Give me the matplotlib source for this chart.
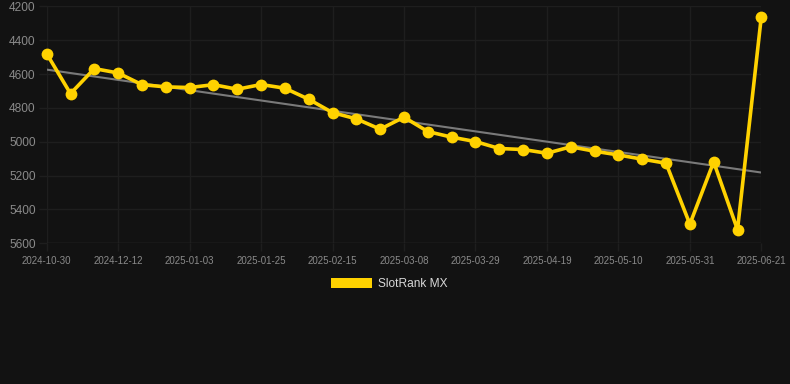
import numpy as np
import matplotlib
matplotlib.use("Agg")
import matplotlib.pyplot as plt
from matplotlib.patches import Patch

plt.rcParams['font.family'] = ['Liberation Sans', 'DejaVu Sans']

# DATA - weekly rank positions (lower is better, axis inverted)
dates = [
    "2024-10-30", "2024-11-14", "2024-11-28", "2024-12-12", "2024-12-19",
    "2024-12-26", "2025-01-03", "2025-01-10", "2025-01-17", "2025-01-25",
    "2025-02-01", "2025-02-08", "2025-02-15", "2025-02-22", "2025-03-01",
    "2025-03-08", "2025-03-15", "2025-03-22", "2025-03-29", "2025-04-05",
    "2025-04-12", "2025-04-19", "2025-04-26", "2025-05-03", "2025-05-10",
    "2025-05-17", "2025-05-24", "2025-05-31", "2025-06-07", "2025-06-14",
    "2025-06-21",
]
rank = [
    4480, 4716, 4568, 4594, 4663, 4676, 4680, 4663, 4690, 4662,
    4684, 4749, 4828, 4865, 4926, 4855, 4940, 4973, 4999, 5040,
    5046, 5068, 5030, 5056, 5078, 5103, 5127, 5487, 5119, 5520,
    4261,
]
trend_ends = [4574, 5182]   # trend line as drawn on the chart
series_name = "SlotRank MX"

BG      = "#121212"
GOLD    = "#ffd200"
GRID    = "#1e1e1e"
TICKCOL = "#8a8a8a"

fig = plt.figure(figsize=(7.9, 3.84), dpi=100, facecolor=BG)
ax = fig.add_axes([0.0591, 0.3664, 0.9046, 0.6172], facecolor=BG)

x = np.arange(len(rank))
ax.plot([x[0], x[-1]], trend_ends, color="#7a7a7a", linewidth=1.5, zorder=2)
ax.plot(x, rank, color=GOLD, linewidth=2.6, marker="o", markersize=8.5,
        markeredgewidth=0, zorder=3, clip_on=False)

ax.set_xlim(0, len(rank) - 1)
ax.set_ylim(5600, 4200)
ax.set_yticks(np.arange(4200, 5601, 200))
ax.set_xticks(x[::3])
ax.set_xticklabels(dates[::3])

ax.grid(True, color=GRID, linewidth=1)
ax.set_axisbelow(True)
for s in ax.spines.values():
    s.set_visible(False)
ax.axhline(5600, color="#2a2a2a", linewidth=1, zorder=1)

ax.tick_params(axis="y", length=6, width=1, color=GRID, pad=2,
               labelsize=8.6, labelcolor=TICKCOL)
ax.tick_params(axis="x", length=6, width=1, color=GRID, pad=3,
               labelsize=7, labelcolor=TICKCOL)

# legend below the chart
fig.legend([Patch(facecolor=GOLD, edgecolor="none")], [series_name],
           loc="center", bbox_to_anchor=(389.5 / 790, 1 - 284 / 384),
           frameon=False, fontsize=8.6, labelcolor="#d8d8d8",
           handlelength=3.4, handleheight=0.95, handletextpad=0.5)

fig.savefig("out.png", dpi=100, facecolor=BG)
